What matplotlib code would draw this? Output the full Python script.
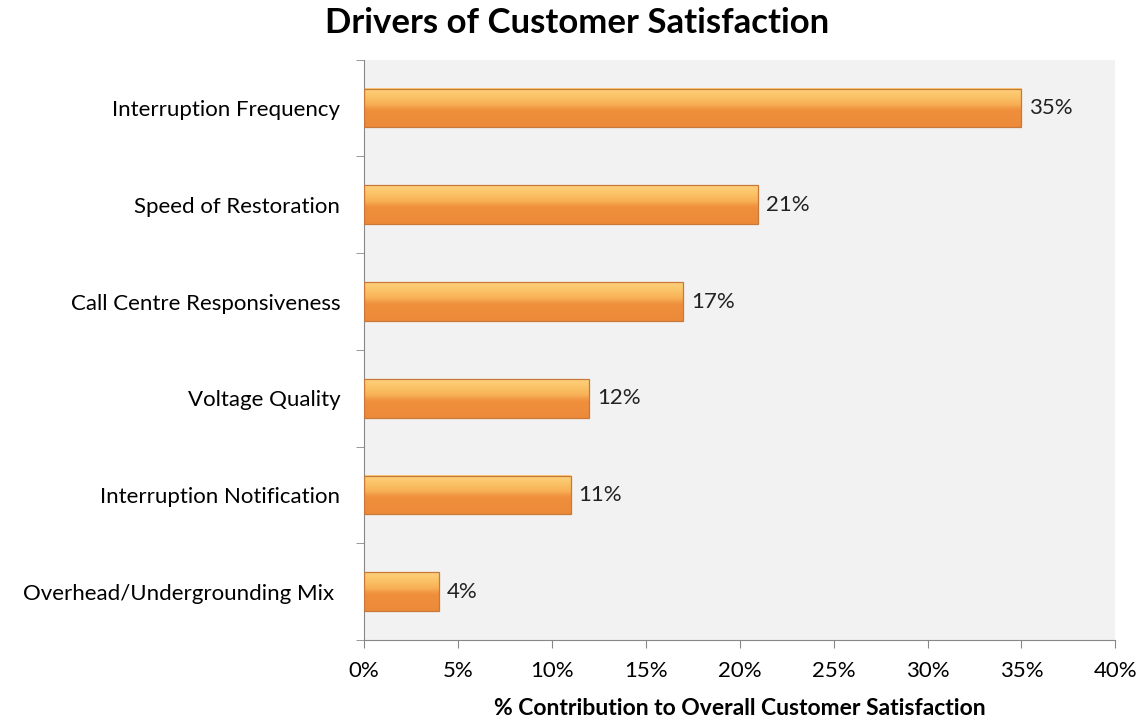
import matplotlib
import matplotlib.pyplot as plt
import numpy as np
from matplotlib.colors import LinearSegmentedColormap

matplotlib.use('Agg')

# Данные
drivers = ['Interruption Frequency', 'Speed of Restoration', 'Call Centre Responsiveness',
           'Voltage Quality', 'Interruption Notification', 'Overhead/Undergrounding Mix ']
values = [35, 21, 17, 12, 11, 4]
xticks = [0, 5, 10, 15, 20, 25, 30, 35, 40]

plt.rcParams['font.family'] = ['Lato', 'DejaVu Sans']

fig = plt.figure(figsize=(11.37, 7.2), dpi=100)
ax = fig.add_axes([0.320, 0.111, 0.661, 0.806])
ax.set_facecolor('#F2F2F2')

y = np.arange(len(drivers))
h = 0.4

# Градиент для эффекта фаски (сверху светлее, затем резкий переход)
cmap = LinearSegmentedColormap.from_list('bevel', [
    (0.0, '#FDD17C'), (0.2, '#FBC468'), (0.42, '#F8AF55'),
    (0.5, '#F29B46'), (0.58, '#EF8F3C'), (1.0, '#EC8A39')])
grad = np.linspace(0, 1, 60).reshape(-1, 1)

for yi, v in zip(y, values):
    ax.imshow(grad, cmap=cmap, aspect='auto', extent=(0, v, yi + h / 2, yi - h / 2),
              interpolation='bilinear', zorder=2)

# Контур полос
ax.barh(y, values, height=h, color='none', edgecolor='#C8783A', linewidth=0.9, zorder=3)

for yi, v in zip(y, values):
    ax.text(v + 0.4, yi, f'{v}%', va='center', ha='left', fontsize=16, color='#222222')

ax.set_xlim(0, 40)
ax.set_ylim(len(drivers) - 0.5, -0.5)
ax.set_xticks(xticks)
ax.set_xticklabels([f'{t}%' for t in xticks], fontsize=16)
ax.set_yticks(y)
ax.set_yticklabels(drivers, fontsize=16)
ax.set_yticks(np.arange(-0.5, len(drivers)), minor=True)
ax.tick_params(axis='y', which='major', length=0, pad=17)
ax.tick_params(axis='y', which='minor', length=6, color='#888888')
ax.tick_params(axis='x', length=6, color='#888888', pad=9)

for s in ['top', 'right']:
    ax.spines[s].set_visible(False)
for s in ['left', 'bottom']:
    ax.spines[s].set_color('#888888')

ax.set_xlabel('% Contribution to Overall Customer Satisfaction', fontsize=16.5,
              fontweight='bold', labelpad=12)
fig.suptitle('Drivers of Customer Satisfaction', fontsize=25, fontweight='bold', x=0.508, y=0.99)

fig.savefig('out.png', dpi=100)
